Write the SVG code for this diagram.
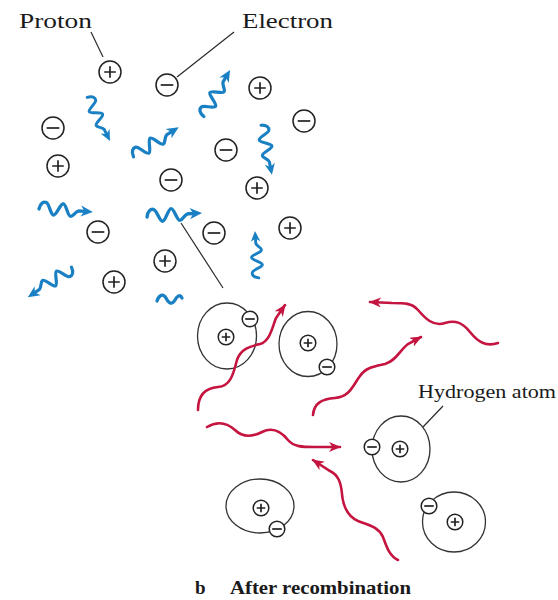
<svg xmlns="http://www.w3.org/2000/svg" xmlns:xlink="http://www.w3.org/1999/xlink" width="558" height="600" viewBox="0 0 558 600">
  <style>
    .lbl { font-family: "Liberation Serif", "Times New Roman", serif; fill: #1a1a1a; }
    .cap { font-family: "Liberation Serif", "Times New Roman", serif; fill: #1a1a1a; font-weight: bold; }
    .ring { fill: #fff; stroke: #222; stroke-width: 1.5; }
    .sym { stroke: #222; stroke-width: 1.7; fill: none; }
    .orbit { fill: none; stroke: #333; stroke-width: 1.3; }
    .lead { fill: none; stroke: #2a2a2a; stroke-width: 1.2; }
    .red { fill: none; stroke: #c4143f; stroke-width: 2.6; stroke-linecap: round; marker-end: url(#redHead); }
    .blue { fill: none; stroke: #1a80c4; stroke-width: 3.3; stroke-linecap: round; }
  </style>
  <defs>
    <marker id="redHead" viewBox="0 0 12 10" refX="11" refY="5" markerWidth="12" markerHeight="10" markerUnits="userSpaceOnUse" orient="auto">
      <path d="M0,0 L12,5 L0,10 L3.5,5 Z" fill="#c4143f"/>
    </marker>
    <!-- free particles -->
    <g id="pBig"><circle r="11" class="ring"/><path d="M-5.8,0H5.8M0,-5.8V5.8" class="sym"/></g>
    <g id="eBig"><circle r="11" class="ring"/><path d="M-6.3,0H6.3" class="sym" stroke-width="2.3"/></g>
    <!-- bound particles -->
    <g id="pSm"><circle r="7.8" class="ring"/><path d="M-4.3,0H4.3M0,-4.3V4.3" class="sym" stroke-width="1.5"/></g>
    <g id="eSm"><circle r="7.8" class="ring"/><path d="M-4.8,0H4.8" class="sym" stroke-width="2"/></g>
    <!-- photon wave with arrowhead, along +x, 54 units long -->
    <g id="photon">
      <path d="M0,1 C1,-5 4,-7 7,-6 C10,-5 12,6 15,6 C18,6 21,-6 24,-6 C27,-6 29,6 32,6 C35,6 36,1 40,0 L46,0" class="blue"/>
      <path d="M54,0 L42,-5.5 L45.5,0 L42,5.5 Z" fill="#1a80c4"/>
    </g>
  </defs>

  <!-- labels -->
  <text class="lbl" x="19" y="28" font-size="22" textLength="73" lengthAdjust="spacingAndGlyphs">Proton</text>
  <text class="lbl" x="242" y="28" font-size="22" textLength="91" lengthAdjust="spacingAndGlyphs">Electron</text>
  <text class="lbl" x="418" y="398" font-size="18.5" textLength="138" lengthAdjust="spacingAndGlyphs">Hydrogen atom</text>
  <text class="cap" x="195" y="594" font-size="19">b</text>
  <text class="cap" x="230" y="594" font-size="19" textLength="181" lengthAdjust="spacingAndGlyphs">After recombination</text>

  <!-- free protons and electrons -->
  <g id="proton-1"><use href="#pBig" x="110" y="72"/></g>
  <g id="electron-1"><use href="#eBig" x="167" y="85"/></g>
  <g id="proton-2"><use href="#pBig" x="260" y="88"/></g>
  <g id="electron-2"><use href="#eBig" x="304" y="121"/></g>
  <g id="electron-3"><use href="#eBig" x="53" y="128"/></g>
  <g id="proton-3"><use href="#pBig" x="58" y="166"/></g>
  <g id="electron-4"><use href="#eBig" x="226" y="150"/></g>
  <g id="electron-5"><use href="#eBig" x="171" y="180"/></g>
  <g id="proton-4"><use href="#pBig" x="257" y="188"/></g>
  <g id="electron-6"><use href="#eBig" x="98" y="232"/></g>
  <g id="proton-5"><use href="#pBig" x="290" y="228"/></g>
  <g id="electron-7"><use href="#eBig" x="214" y="233"/></g>
  <g id="proton-6"><use href="#pBig" x="165" y="261"/></g>
  <g id="proton-7"><use href="#pBig" x="114" y="282"/></g>

  <!-- hydrogen atoms -->
  <g id="atom-1">
    <ellipse cx="227" cy="336" rx="29.5" ry="33" class="orbit"/>
    <use href="#pSm" x="226" y="337"/>
    <use href="#eSm" x="250" y="319"/>
  </g>
  <g id="atom-2">
    <ellipse cx="308" cy="344" rx="29" ry="32.5" class="orbit"/>
    <use href="#pSm" x="308" y="343"/>
    <use href="#eSm" x="327" y="367"/>
  </g>
  <g id="atom-3">
    <ellipse cx="401" cy="449" rx="29" ry="33" class="orbit"/>
    <use href="#pSm" x="400" y="449"/>
    <use href="#eSm" x="372" y="447"/>
  </g>
  <g id="atom-4">
    <ellipse cx="260" cy="506" rx="34" ry="27" class="orbit"/>
    <use href="#pSm" x="261" y="508"/>
    <use href="#eSm" x="277" y="529"/>
  </g>
  <g id="atom-5">
    <ellipse cx="454" cy="522" rx="31.5" ry="30" class="orbit"/>
    <use href="#pSm" x="455" y="522"/>
    <use href="#eSm" x="429" y="506"/>
  </g>

  <!-- photons, leader lines -->
  <g id="connectors">
    <path d="M91,32 L103,57" class="lead"/>
    <path d="M234,32 L177,77" class="lead"/>
    <path d="M443,406 L423,427" class="lead"/>
    <path d="M181,223 L223,288" class="lead"/>

    <use href="#photon" transform="translate(88,97) rotate(63.4) scale(0.91)"/>
    <use href="#photon" transform="translate(133,156) rotate(-32.2)"/>
    <use href="#photon" transform="translate(203,116) rotate(-59.6) scale(0.99)"/>
    <use href="#photon" transform="translate(262,125) rotate(78.7) scale(0.94)"/>
    <use href="#photon" transform="translate(39,208) rotate(4.2)"/>
    <use href="#photon" transform="translate(147,216) rotate(-3.1) scale(1.02)"/>
    <use href="#photon" transform="translate(72,268) rotate(146.6) scale(0.98)"/>
    <use href="#photon" transform="translate(258,278) rotate(-93.7) scale(0.87)"/>
    <path d="M157,301 C159,295 163,293 166,298 C169,304 172,305 175,300 C177,296 180,294 182,298" class="blue"/>

    <path d="M198,410 C198,395 205,388 218,387 C232,386 234,370 237,360 C241,348 252,346 260,344 C270,341 272,328 276,318 L285,305" class="red"/>
    <path d="M313,415 C314,403 322,399 335,398 C350,397 353,385 360,376 C366,367 376,366 385,364 C396,361 400,350 408,344 L421,337" class="red"/>
    <path d="M498,343 C486,347 478,342 470,332 C462,322 455,320 445,323 C433,327 425,318 418,310 C412,303 404,303 392,303 L370,302" class="red"/>
    <path d="M207,427 C217,421 226,422 235,430 C243,438 252,437 262,432 C272,427 280,430 288,440 C294,447 302,447 315,447 L340,447" class="red"/>
    <path d="M398,560 C389,556 386,545 383,537 C378,526 368,525 358,521 C347,516 343,505 342,494 C341,482 338,475 330,471 L313,460" class="red"/>
  </g>
</svg>
